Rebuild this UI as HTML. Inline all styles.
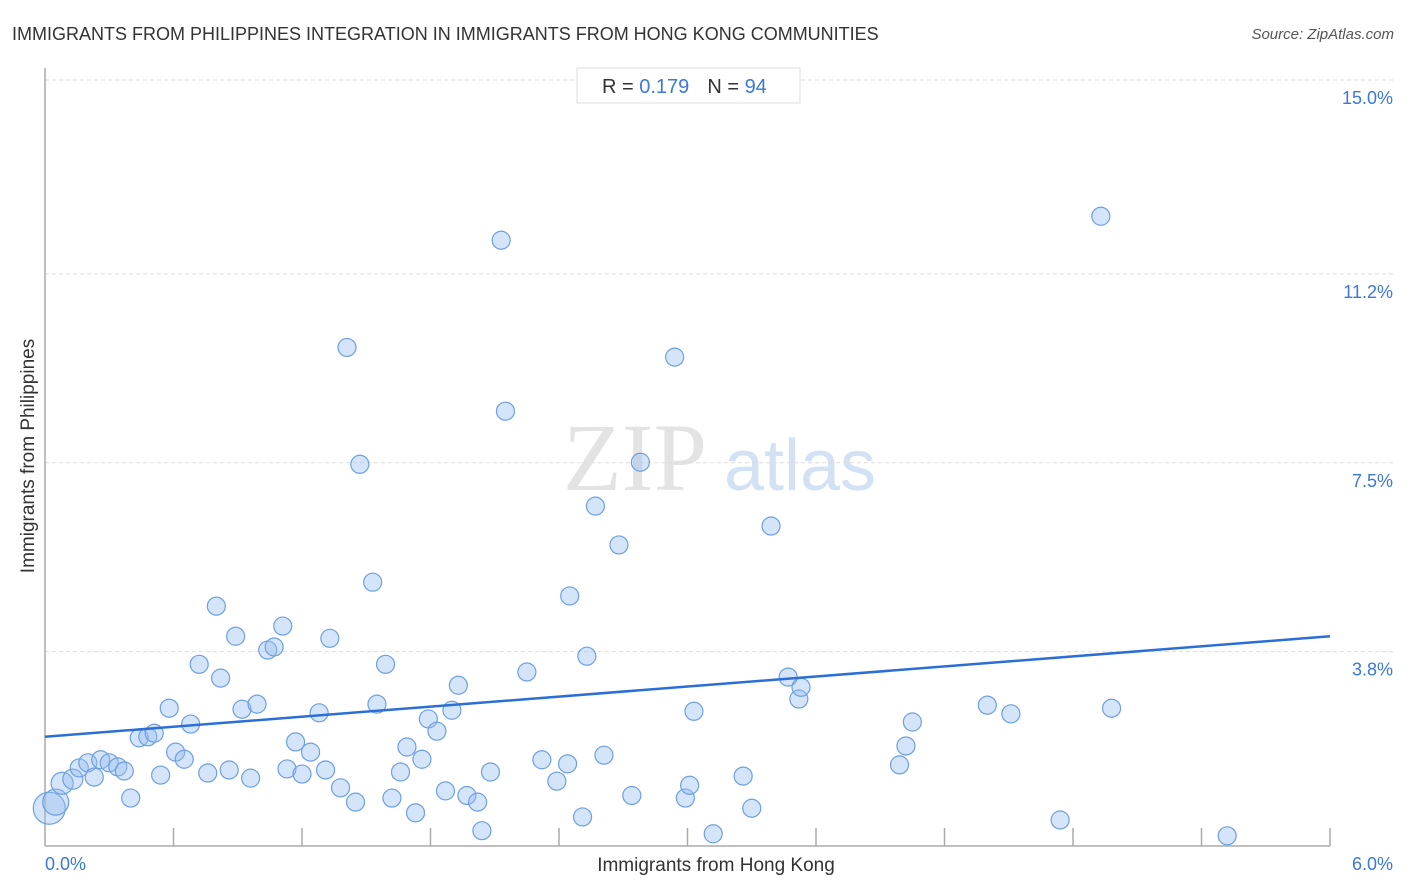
<!DOCTYPE html>
<html><head><meta charset="utf-8"><style>
body{margin:0;background:#fff;font-family:"Liberation Sans",sans-serif;}
svg{display:block}
</style></head><body>
<svg id="chart" width="1406" height="892" xmlns="http://www.w3.org/2000/svg">
<text x="12" y="40" font-size="18" fill="#333">IMMIGRANTS FROM PHILIPPINES INTEGRATION IN IMMIGRANTS FROM HONG KONG COMMUNITIES</text>
<text x="1394" y="39" font-size="15" fill="#555" text-anchor="end" font-style="italic">Source: ZipAtlas.com</text>
<g>
<text x="635" y="490" font-size="96" font-family="Liberation Serif,serif" fill="#ddd" text-anchor="middle" opacity="0.8">ZIP</text>
<text x="800" y="490" font-size="72" fill="#c9daf3" text-anchor="middle" opacity="0.8">atlas</text>
</g>
<g id="grid"></g>
<g id="axes"></g>
<g id="points"></g>
<g id="trend"></g>
<g>
<rect x="577" y="68" width="223" height="35" fill="#fff" stroke="#ddd"/>
<text x="602" y="93" font-size="20" fill="#333">R = <tspan fill="#3b78d8">0.179</tspan><tspan dx="18">N = </tspan><tspan fill="#3b78d8">94</tspan></text>
</g>
<text x="716" y="871" font-size="19" fill="#333" text-anchor="middle">Immigrants from Hong Kong</text>
<text transform="translate(34,456) rotate(-90)" font-size="19" fill="#333" text-anchor="middle">Immigrants from Philippines</text>
</svg>
<script>
const xs=[0.02,0.05,0.08,0.13,0.16,0.20,0.23,0.26,0.30,0.34,0.37,0.40,0.44,0.48,0.51,0.54,0.58,0.61,0.65,0.68,0.72,0.76,0.80,0.82,0.86,0.89,0.92,0.96,0.99,1.04,1.07,1.11,1.13,1.17,1.20,1.24,1.28,1.31,1.33,1.38,1.41,1.45,1.47,1.53,1.55,1.59,1.62,1.66,1.69,1.73,1.76,1.79,1.83,1.87,1.90,1.93,1.97,2.02,2.04,2.08,2.13,2.15,2.25,2.32,2.39,2.44,2.45,2.51,2.53,2.57,2.61,2.68,2.74,2.78,2.94,2.99,3.01,3.03,3.12,3.26,3.30,3.39,3.47,3.52,3.53,3.99,4.02,4.05,4.40,4.51,4.74,4.93,4.98,5.52];
const ys=[0.73,0.85,1.22,1.30,1.52,1.62,1.34,1.68,1.62,1.54,1.46,0.93,2.11,2.13,2.20,1.38,2.69,1.83,1.69,2.38,3.55,1.42,4.69,3.28,1.48,4.10,2.67,1.32,2.77,3.83,3.89,4.30,1.50,2.03,1.40,1.83,2.60,1.48,4.06,1.13,9.76,0.85,7.47,5.16,2.77,3.55,0.93,1.44,1.93,0.64,1.69,2.48,2.24,1.07,2.65,3.14,0.98,0.85,0.29,1.44,11.86,8.51,3.40,1.68,1.26,1.60,4.89,0.56,3.71,6.65,1.77,5.89,0.98,7.51,9.57,0.93,1.18,2.63,0.23,1.36,0.73,6.26,3.30,2.87,3.10,1.58,1.95,2.42,2.75,2.58,0.50,12.33,2.69,0.19];
const sizes=[16,13,11,10];
const yTicks=[3.8,7.5,11.2,15.0];
const yTickLabels=["3.8%","7.5%","11.2%","15.0%"];
const trendY=[2.13,4.10];
const xMax=6, yMax=15;
const X=v=>45+v/xMax*1285, Y=v=>845.5-v/yMax*765.5;
const NS="http://www.w3.org/2000/svg";
function mk(t,a,p){const e=document.createElementNS(NS,t);for(const k in a)e.setAttribute(k,a[k]);p.appendChild(e);return e;}
const grid=document.getElementById('grid'),axes=document.getElementById('axes'),pts=document.getElementById('points'),tr=document.getElementById('trend');
yTicks.forEach((t,i)=>{
 const l=mk('line',{x1:45,x2:1395,y1:Y(t),y2:Y(t),stroke:'#ddd','stroke-dasharray':'4,3'},grid);
 
 
 const tx=mk('text',{x:1393,y:Y(t)+24,'font-size':18,fill:'#3b78d8','text-anchor':'end'},grid);
 tx.textContent=yTickLabels[i];
 
 
});
const ya=mk('line',{x1:45,x2:45,y1:68,y2:846,stroke:'#aaa','stroke-width':1.5},axes);


const xa=mk('line',{x1:45,x2:1330,y1:846,y2:846,stroke:'#aaa','stroke-width':1.5},axes);


for(let i=1;i<=10;i++){
 const tk=mk('line',{x1:X(i*0.6),x2:X(i*0.6),y1:828,y2:846,stroke:'#aaa','stroke-width':1.5},axes);
 
 
}
const x0=mk('text',{x:45,y:870,'font-size':18,fill:'#3b78d8'},axes);x0.textContent='0.0%';


const x1=mk('text',{x:1393,y:870,'font-size':18,fill:'#3b78d8','text-anchor':'end'},axes);x1.textContent='6.0%';


xs.forEach((v,i)=>{
 const c=mk('circle',{cx:X(v),cy:Y(ys[i]),r:sizes[i]||9,fill:'rgba(150,190,240,0.4)',stroke:'#6d9fe3','stroke-width':1.2},pts);
 
 
});
const tl=mk('line',{x1:X(0),y1:Y(trendY[0]),x2:X(xMax),y2:Y(trendY[1]),stroke:'#2b6fd6','stroke-width':2.5},tr);


</script>
</body></html>
